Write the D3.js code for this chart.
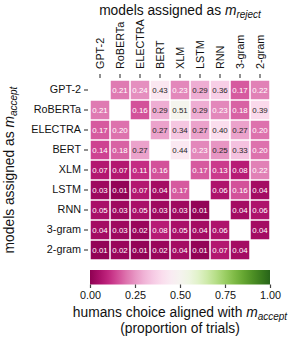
<!DOCTYPE html>
<html>
<head>
<meta charset="utf-8">
<script src="https://cdn.jsdelivr.net/npm/d3@7"></script>
<style>
  body { margin: 0; background: #fff; }
  svg { font-family: "Liberation Sans", Arial, sans-serif; }
</style>
</head>
<body>
<svg id="chart" width="305" height="345"></svg>
<script>
const models = ['GPT-2', 'RoBERTa', 'ELECTRA', 'BERT', 'XLM', 'LSTM', 'RNN', '3-gram', '2-gram'];

// rows = model assigned as m_accept, columns = model assigned as m_reject
const gpt2    = [null, 0.21, 0.24, 0.43, 0.23, 0.29, 0.36, 0.17, 0.22];
const roberta = [0.21, null, 0.16, 0.29, 0.51, 0.29, 0.23, 0.18, 0.39];
const electra = [0.17, 0.20, null, 0.27, 0.34, 0.27, 0.40, 0.27, 0.20];
const bert    = [0.14, 0.18, 0.27, null, 0.44, 0.23, 0.25, 0.33, 0.20];
const xlm     = [0.07, 0.07, 0.11, 0.16, null, 0.17, 0.13, 0.08, 0.22];
const lstm    = [0.03, 0.01, 0.07, 0.04, 0.17, null, 0.06, 0.16, 0.04];
const rnn     = [0.05, 0.03, 0.05, 0.03, 0.03, 0.01, null, 0.04, 0.06];
const trigram = [0.04, 0.03, 0.02, 0.08, 0.05, 0.04, 0.06, null, 0.04];
const bigram  = [0.01, 0.02, 0.01, 0.02, 0.04, 0.01, 0.07, 0.04, null];
const rows = [gpt2, roberta, electra, bert, xlm, lstm, rnn, trigram, bigram];

const colorTicks = [0, 0.25, 0.5, 0.75, 1];

const cells = [];
rows.forEach((r, i) => r.forEach((v, j) => {
  if (v !== null) cells.push({ row: models[i], col: models[j], value: v });
}));

const svg = d3.select('#chart');
const gridLeft = 90, gridTop = 80, size = 180;

const x = d3.scaleBand().domain(models).range([gridLeft, gridLeft + size]);
const y = d3.scaleBand().domain(models).range([gridTop, gridTop + size]);
const color = d3.scaleSequential(d3.interpolatePiYG).domain([0, 1]);

svg.append('g')
  .selectAll('rect')
  .data(cells)
  .join('rect')
  .attr('x', d => x(d.col) + 0.75)
  .attr('y', d => y(d.row) + 0.75)
  .attr('width', x.bandwidth() - 1.5)
  .attr('height', y.bandwidth() - 1.5)
  .attr('fill', d => color(d.value));

svg.append('g')
  .selectAll('text')
  .data(cells)
  .join('text')
  .attr('x', d => x(d.col) + x.bandwidth() / 2)
  .attr('y', d => y(d.row) + y.bandwidth() / 2)
  .attr('text-anchor', 'middle')
  .attr('dy', '0.35em')
  .attr('font-size', 7.9)
  .attr('fill', d => d.value < 0.245 ? '#fff' : '#262626')
  .text(d => d.value.toFixed(2));

// top axis (m_reject)
const xAxis = svg.append('g')
  .attr('transform', `translate(0,${gridTop - 2})`)
  .call(d3.axisTop(x).tickSize(4).tickPadding(3));
xAxis.select('.domain').remove();
xAxis.selectAll('line').attr('stroke', '#222');
xAxis.selectAll('text')
  .attr('font-size', 10.8)
  .attr('fill', '#111')
  .attr('text-anchor', 'start')
  .attr('transform', 'rotate(-90)')
  .attr('x', 9)
  .attr('y', 0)
  .attr('dy', '0.35em');

// left axis (m_accept)
const yAxis = svg.append('g')
  .attr('transform', `translate(${gridLeft - 2},0)`)
  .call(d3.axisLeft(y).tickSize(4).tickPadding(3));
yAxis.select('.domain').remove();
yAxis.selectAll('line').attr('stroke', '#222');
yAxis.selectAll('text').attr('font-size', 10.8).attr('fill', '#111');

// titles
const title = svg.append('text')
  .attr('x', 180).attr('y', 15)
  .attr('text-anchor', 'middle')
  .attr('font-size', 13.8).attr('fill', '#111');
title.append('tspan').text('models assigned as ');
title.append('tspan').attr('font-style', 'italic').text('m');
title.append('tspan').attr('font-style', 'italic').attr('font-size', 10).attr('dy', 3).text('reject');

const ytitle = svg.append('text')
  .attr('transform', `translate(14,${gridTop + size / 2}) rotate(-90)`)
  .attr('text-anchor', 'middle')
  .attr('font-size', 13.8).attr('fill', '#111');
ytitle.append('tspan').text('models assigned as ');
ytitle.append('tspan').attr('font-style', 'italic').text('m');
ytitle.append('tspan').attr('font-style', 'italic').attr('font-size', 10).attr('dy', 3).text('accept');

// colorbar
const defs = svg.append('defs');
const grad = defs.append('linearGradient').attr('id', 'cbar');
d3.range(0, 1.001, 0.05).forEach(t => {
  grad.append('stop').attr('offset', `${t * 100}%`).attr('stop-color', color(t));
});
const cb = d3.scaleLinear().domain([0, 1]).range([gridLeft, gridLeft + size]);
svg.append('rect')
  .attr('x', gridLeft).attr('y', 270)
  .attr('width', size).attr('height', 14.5)
  .attr('fill', 'url(#cbar)');

const cAxis = svg.append('g')
  .attr('transform', 'translate(0,284.5)')
  .call(d3.axisBottom(cb).tickValues(colorTicks).tickFormat(d3.format('.2f')).tickSize(3.5).tickPadding(3));
cAxis.select('.domain').remove();
cAxis.selectAll('line').attr('stroke', '#444').attr('stroke-width', 1.2);
cAxis.selectAll('text').attr('font-size', 10.8).attr('fill', '#111');

const ctitle = svg.append('text')
  .attr('x', 180).attr('y', 317)
  .attr('text-anchor', 'middle')
  .attr('font-size', 13.8).attr('fill', '#111');
ctitle.append('tspan').text('humans choice aligned with ');
ctitle.append('tspan').attr('font-style', 'italic').text('m');
ctitle.append('tspan').attr('font-style', 'italic').attr('font-size', 10).attr('dy', 3).text('accept');

svg.append('text')
  .attr('x', 180).attr('y', 333)
  .attr('text-anchor', 'middle')
  .attr('font-size', 13.8).attr('fill', '#111')
  .text('(proportion of trials)');
</script>
</body>
</html>
